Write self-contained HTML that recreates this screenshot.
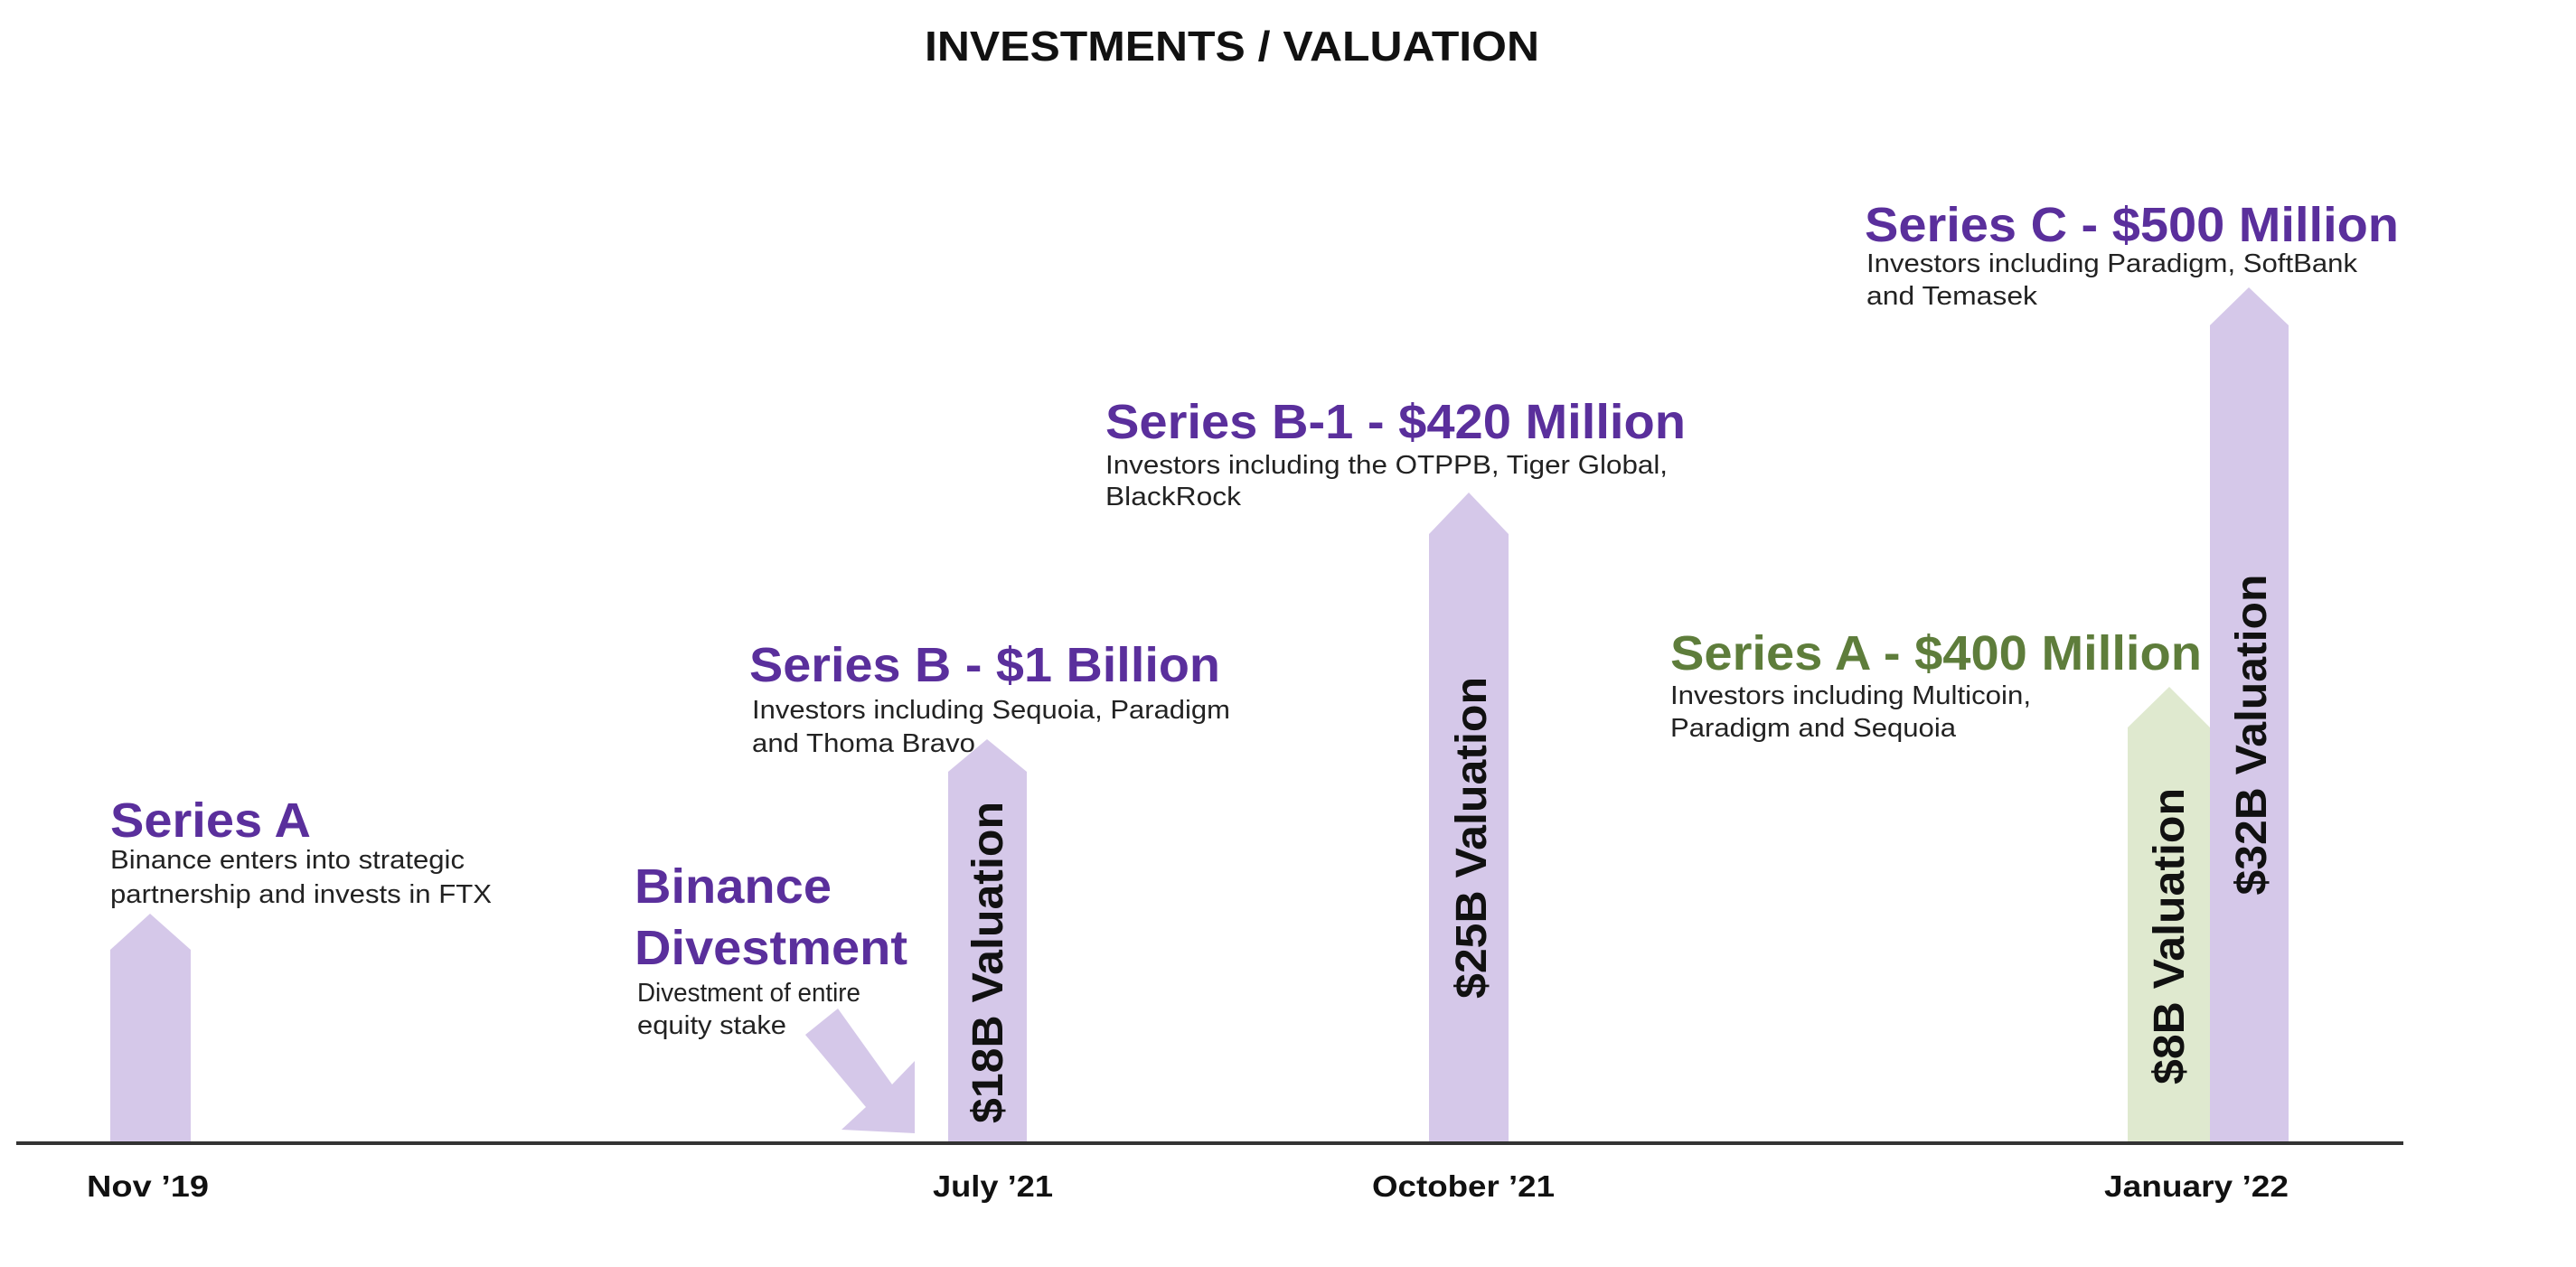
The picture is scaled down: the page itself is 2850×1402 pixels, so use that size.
<!DOCTYPE html>
<html><head><meta charset="utf-8"><style>
html,body{margin:0;padding:0;background:#fff;}
svg{display:block;}
text{font-family:"Liberation Sans",Arial,sans-serif;}
.h{font-weight:bold;font-size:54px;fill:#5a2f9c;}
.g{font-weight:bold;font-size:54px;fill:#5e7d3b;}
.s{font-size:29px;fill:#222;}
.d{font-weight:bold;font-size:33px;fill:#111;}
.v{font-weight:bold;font-size:48px;fill:#111;}
</style></head><body>
<svg width="2850" height="1402" viewBox="0 0 2850 1402" xmlns="http://www.w3.org/2000/svg">
<rect width="2850" height="1402" fill="#fff"/>
<text x="1363" y="67" text-anchor="middle" font-weight="bold" font-size="46" fill="#111" textLength="680" lengthAdjust="spacingAndGlyphs">INVESTMENTS / VALUATION</text>

<g fill="#d5c8e9">
<polygon points="122,1265 122,1051 166,1011 211,1051 211,1265"/>
<polygon points="1049,1265 1049,854 1092,818 1136,854 1136,1265"/>
<polygon points="1581,1265 1581,591 1625,545 1669,591 1669,1265"/>
<polygon points="2445,1265 2445,360 2488,318 2532,360 2532,1265"/>
<polygon points="891,1145 927,1116 987,1200 1012,1174 1012,1254 931,1250 958,1225"/>
</g>
<polygon points="2354,1265 2354,805 2400,760 2445,805 2445,1265" fill="#dfe9cf"/>

<line x1="18" y1="1265" x2="2659" y2="1265" stroke="#333" stroke-width="4"/>

<text class="d" x="96" y="1324" textLength="135" lengthAdjust="spacingAndGlyphs">Nov ’19</text>
<text class="d" x="1032" y="1324" textLength="133" lengthAdjust="spacingAndGlyphs">July ’21</text>
<text class="d" x="1518" y="1324" textLength="202" lengthAdjust="spacingAndGlyphs">October ’21</text>
<text class="d" x="2328" y="1324" textLength="204" lengthAdjust="spacingAndGlyphs">January ’22</text>

<text class="v" transform="translate(1109,1065) rotate(-90)" text-anchor="middle" textLength="356" lengthAdjust="spacingAndGlyphs">$18B Valuation</text>
<text class="v" transform="translate(1644,927) rotate(-90)" text-anchor="middle" textLength="356" lengthAdjust="spacingAndGlyphs">$25B Valuation</text>
<text class="v" transform="translate(2416,1036) rotate(-90)" text-anchor="middle" textLength="328" lengthAdjust="spacingAndGlyphs">$8B Valuation</text>
<text class="v" transform="translate(2507,813) rotate(-90)" text-anchor="middle" textLength="355" lengthAdjust="spacingAndGlyphs">$32B Valuation</text>

<text class="h" x="122" y="926" textLength="222" lengthAdjust="spacingAndGlyphs">Series A</text>
<text class="s" x="122" y="961" textLength="392" lengthAdjust="spacingAndGlyphs">Binance enters into strategic</text>
<text class="s" x="122" y="999" textLength="422" lengthAdjust="spacingAndGlyphs">partnership and invests in FTX</text>

<text class="h" x="702" y="999" textLength="218" lengthAdjust="spacingAndGlyphs">Binance</text>
<text class="h" x="702" y="1067" textLength="302" lengthAdjust="spacingAndGlyphs">Divestment</text>
<text class="s" x="705" y="1108" textLength="247" lengthAdjust="spacingAndGlyphs">Divestment of entire</text>
<text class="s" x="705" y="1144" textLength="165" lengthAdjust="spacingAndGlyphs">equity stake</text>

<text class="h" x="829" y="754" textLength="521" lengthAdjust="spacingAndGlyphs">Series B - $1 Billion</text>
<text class="s" x="832" y="795" textLength="529" lengthAdjust="spacingAndGlyphs">Investors including Sequoia, Paradigm</text>
<text class="s" x="832" y="832" textLength="247" lengthAdjust="spacingAndGlyphs">and Thoma Bravo</text>

<text class="h" x="1223" y="485" textLength="642" lengthAdjust="spacingAndGlyphs">Series B-1 - $420 Million</text>
<text class="s" x="1223" y="524" textLength="622" lengthAdjust="spacingAndGlyphs">Investors including the OTPPB, Tiger Global,</text>
<text class="s" x="1223" y="559" textLength="150" lengthAdjust="spacingAndGlyphs">BlackRock</text>

<text class="h" x="2063" y="267" textLength="591" lengthAdjust="spacingAndGlyphs">Series C - $500 Million</text>
<text class="s" x="2065" y="301" textLength="543" lengthAdjust="spacingAndGlyphs">Investors including Paradigm, SoftBank</text>
<text class="s" x="2065" y="337" textLength="189" lengthAdjust="spacingAndGlyphs">and Temasek</text>

<text class="g" x="1848" y="741" textLength="588" lengthAdjust="spacingAndGlyphs">Series A - $400 Million</text>
<text class="s" x="1848" y="779" textLength="399" lengthAdjust="spacingAndGlyphs">Investors including Multicoin,</text>
<text class="s" x="1848" y="815" textLength="316" lengthAdjust="spacingAndGlyphs">Paradigm and Sequoia</text>
</svg>
</body></html>
